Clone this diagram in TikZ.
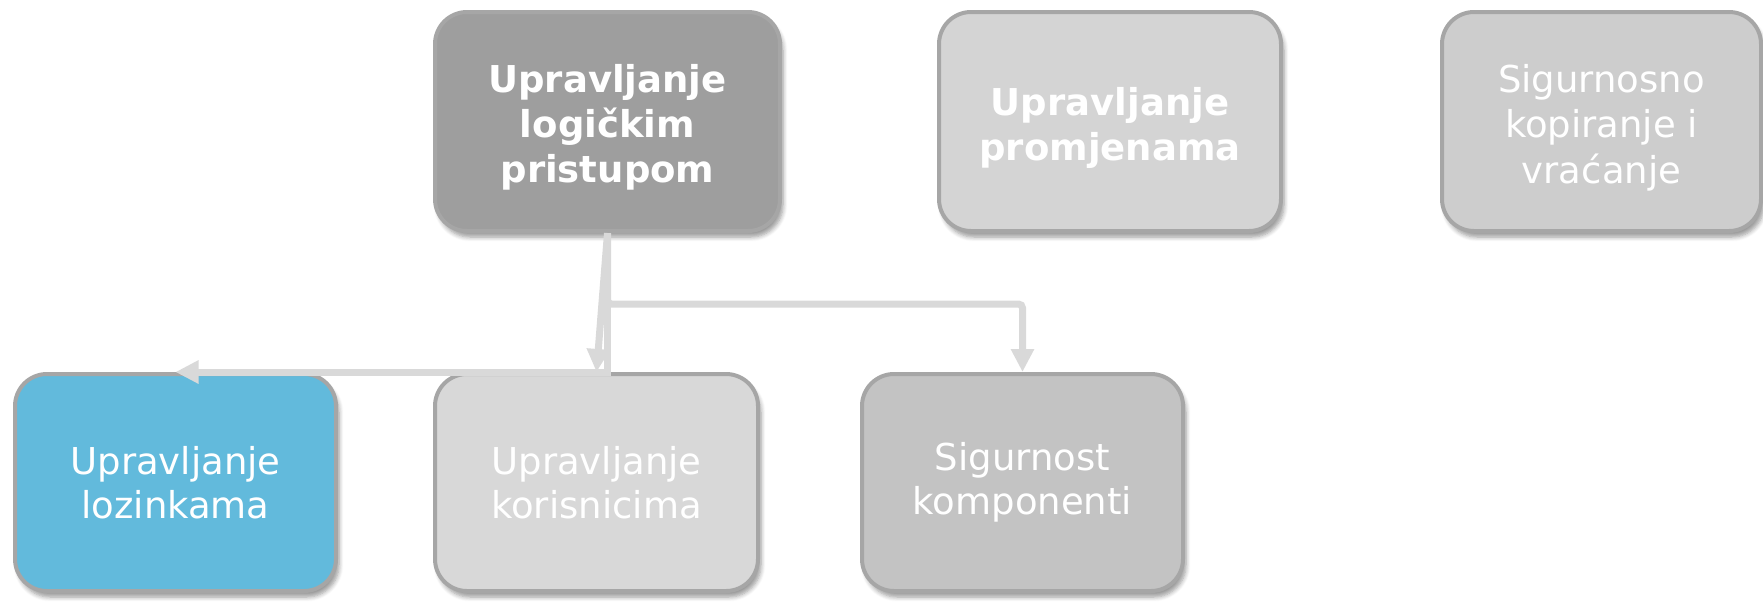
\documentclass[tikz,border=0pt]{standalone}
\usepackage{fontspec}
\setmainfont{DejaVuSans.ttf}[BoldFont=DejaVuSans-Bold.ttf]
\usetikzlibrary{arrows.meta,shadows.blur}

\definecolor{boxline}{RGB}{166,166,166}
\definecolor{connline}{RGB}{217,217,217}
\definecolor{fillA}{RGB}{158,158,158}
\definecolor{fillB}{RGB}{212,212,212}
\definecolor{fillC}{RGB}{205,205,205}
\definecolor{fillD}{RGB}{98,186,220}
\definecolor{fillE}{RGB}{216,216,216}
\definecolor{fillF}{RGB}{195,195,195}

% strut: text of the top row sits a little lower in its box
\newcommand{\toplift}{\rule{0pt}{20pt}}

\tikzset{every picture/.style={line width=0.75pt}}
\tikzset{
  box/.style={draw=boxline, line width=2pt, rounded corners=16pt, text=white, align=center,
    inner sep=0pt, font=\fontsize{18.5}{22}\selectfont,
    blur shadow={shadow xshift=1.5pt, shadow yshift=-3pt, shadow opacity=40, shadow blur steps=6}},
  boldtxt/.style={font=\fontsize{18.5}{22.5}\selectfont\bfseries},
  conn/.style={draw=connline, line width=3.5pt, -{Triangle[length=11.5pt,width=11pt]}}
}

\begin{document}
\begin{tikzpicture}[x=0.5pt,y=0.5pt,yscale=-1]
\useasboundingbox (0,0) rectangle (1763,602);

% top row
\node[box, boldtxt, fill=fillA, minimum width=172.5pt, minimum height=109.5pt] (logicki) at (607.5,121.5)
  {\toplift Upravljanje\\logičkim\\pristupom};
\node[box, boldtxt, fill=fillB, minimum width=171pt, minimum height=109.5pt] (promjene) at (1110,121.5)
  {\toplift Upravljanje\\promjenama};
\node[box, font=\fontsize{18.5}{22.8}\selectfont, fill=fillC, minimum width=159.5pt, minimum height=109.5pt] (kopiranje) at (1601.5,121.5)
  {\toplift Sigurnosno\\kopiranje i\\vraćanje};

% bottom row
\node[box, fill=fillD, minimum width=160.5pt, minimum height=108.5pt] (lozinke) at (175.5,482.5)
  {Upravljanje\\lozinkama};
\node[box, fill=fillE, minimum width=161.5pt, minimum height=108.5pt] (korisnici) at (596.5,482.5)
  {Upravljanje\\korisnicima};
\node[box, fill=fillF, minimum width=160.5pt, minimum height=108.5pt] (komponente) at (1022.5,482.5)
  {Sigurnost\\komponenti};

% connectors
\draw[conn] (logicki.south) -- (logicki.south |- lozinke.north) -- (lozinke.north);
\draw[conn] (logicki.south) -- (korisnici.north);
\draw[conn, rounded corners=2pt] (logicki.south) -- ++(0,71) -| (komponente.north);

\end{tikzpicture}
\end{document}
